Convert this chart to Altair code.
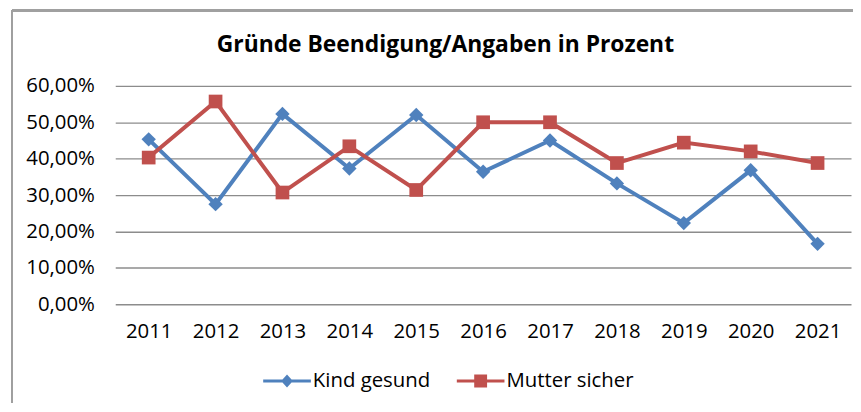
import altair as alt
import pandas as pd

years = ["2011", "2012", "2013", "2014", "2015", "2016", "2017", "2018", "2019", "2020", "2021"]
kind_gesund = [0.453, 0.275, 0.523, 0.373, 0.520, 0.364, 0.450, 0.332, 0.223, 0.368, 0.166]
mutter_sicher = [0.403, 0.557, 0.307, 0.434, 0.314, 0.500, 0.500, 0.388, 0.444, 0.420, 0.388]
series_names = ["Kind gesund", "Mutter sicher"]
series_colors = ["#4F81BD", "#C0504D"]
title_text = "Gründe Beendigung/Angaben in Prozent"
y_ticks = [0, 0.1, 0.2, 0.3, 0.4, 0.5, 0.6]

rows = []
for name, vals in zip(series_names, [kind_gesund, mutter_sicher]):
    for y, v in zip(years, vals):
        rows.append({"year": y, "series": name, "value": v})
df = pd.DataFrame(rows)

FONT = "Open Sans"
LFS = 20.5

diamond_leg = ("M-1,-0.065 L-0.19,-0.065 L0,-0.27 L0.19,-0.065 L1,-0.065 L1,0.065 "
               "L0.19,0.065 L0,0.27 L-0.19,0.065 L-1,0.065 Z")
square_leg = ("M-1,-0.065 L-0.27,-0.065 L-0.27,-0.27 L0.27,-0.27 L0.27,-0.065 L1,-0.065 "
              "L1,0.065 L0.27,0.065 L0.27,0.27 L-0.27,0.27 L-0.27,0.065 L-1,0.065 Z")

x_enc = alt.X("year:O", scale=alt.Scale(type="point", padding=0.5),
              axis=alt.Axis(title=None, labelAngle=0, domain=False, ticks=False, grid=False,
                            labelFontSize=LFS, labelFont=FONT, labelColor="#000000",
                            labelPadding=17))
y_enc = alt.Y("value:Q", scale=alt.Scale(domain=[0, 0.6], nice=False),
              axis=alt.Axis(title=None, values=y_ticks, domain=False, ticks=False,
                            grid=True, gridColor="#8c8c8c", gridWidth=1.4,
                            labelFontSize=LFS, labelFont=FONT, labelColor="#000000",
                            labelPadding=21,
                            labelExpr="replace(format(datum.value, '.2%'), '.', ',')"))

base = alt.Chart(df)

layers = []
for name, col, shp, sz in zip(series_names, series_colors, ["diamond", "square"], [210, 190]):
    sub = base.transform_filter(alt.datum.series == name)
    layers.append(sub.mark_line(color=col, strokeWidth=4).encode(x=x_enc, y=y_enc))
    layers.append(sub.mark_point(shape=shp, filled=True, size=sz, color=col, opacity=1)
                  .encode(x=x_enc, y=y_enc))

leg = alt.Legend(title=None, orient="none", direction="horizontal",
                 legendX=149, legendY=273, symbolSize=2304,
                 symbolStrokeWidth=0, labelFontSize=LFS, labelFont=FONT,
                 labelColor="#000000", labelOffset=2, columnPadding=26)

legend_layer = base.transform_filter("datum.value < 0").mark_point(filled=True, opacity=1).encode(
    x=x_enc, y=y_enc,
    color=alt.Color("series:N", scale=alt.Scale(domain=series_names, range=series_colors), legend=leg),
    shape=alt.Shape("series:N", scale=alt.Scale(domain=series_names, range=[diamond_leg, square_leg]),
                    legend=leg),
)

frame_left = base.mark_rule(color="#a0a0a0", strokeWidth=1.5).encode(
    x=alt.value(-104), y=alt.value(-76), y2=alt.value(330))
frame_top = base.mark_rule(color="#a0a0a0", strokeWidth=1.5).encode(
    x=alt.value(-104), x2=alt.value(760), y=alt.value(-76))

chart = alt.layer(frame_left, frame_top, *layers, legend_layer).properties(
    width=741, height=220,
    title=alt.TitleParams(title_text, font=FONT, fontSize=23, fontWeight="bold",
                          anchor="middle", frame="group", dx=-38, dy=66, offset=0,
                          baseline="alphabetic", color="#000000"),
    autosize=alt.AutoSizeParams(type="none"),
    padding={"left": 108, "top": 77, "right": 2, "bottom": 98},
).configure_view(stroke=None)

chart.save("out.html", embed_options={"renderer": "svg", "actions": False})
